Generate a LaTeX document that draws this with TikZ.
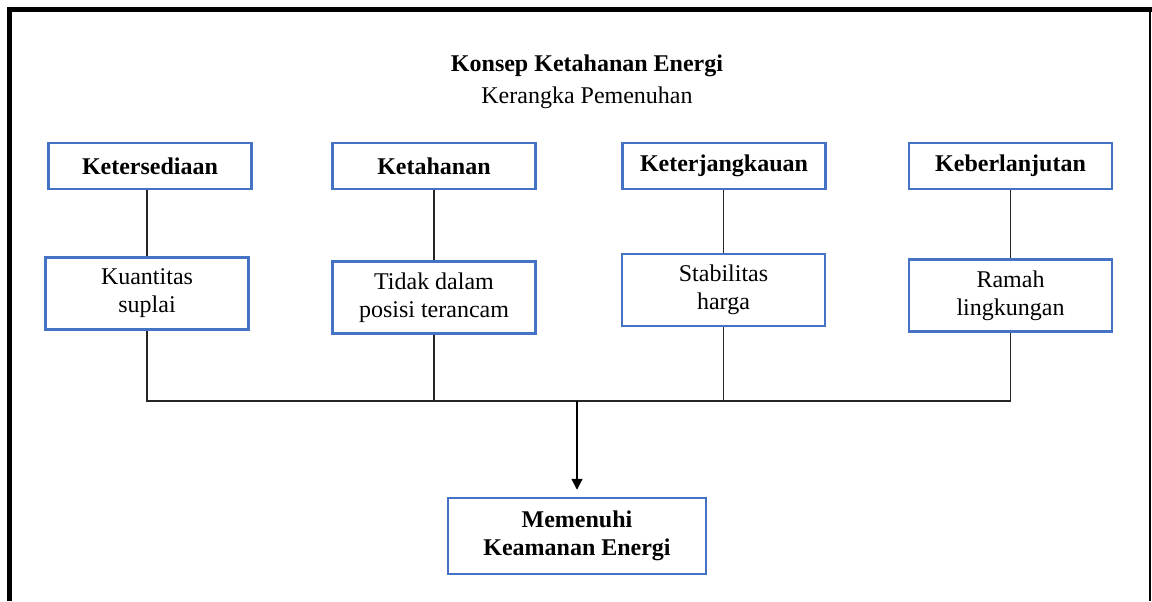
\documentclass[tikz,border=0pt]{standalone}
\usepackage{fontspec}
\setmainfont{Liberation Serif}
\usepackage{tikz}
\usetikzlibrary{arrows.meta,positioning}
\definecolor{wordblue}{HTML}{4472C4}
\tikzset{
  pillar/.style  = {draw=wordblue, line width=1.25pt, minimum width=101.5pt, minimum height=23pt, inner sep=2pt, font=\fontsize{12}{14}\selectfont\bfseries},
  aspect/.style  = {draw=wordblue, line width=1.25pt, minimum width=101.5pt, minimum height=36pt, inner sep=2pt, align=center, font=\fontsize{12}{14}\selectfont},
  goalbox/.style = {draw=wordblue, line width=1.25pt, minimum width=129pt, minimum height=38pt, inner sep=2pt, align=center, font=\fontsize{12}{14}\selectfont\bfseries},
  link/.style    = {black!85, line width=0.7pt},
  wire/.style    = {black, line width=0.8pt, -{Triangle[length=5.5pt,width=5.5pt]}, shorten >=3.5pt},
  heading/.style = {anchor=base, inner sep=0pt, font=\fontsize{12}{14}\selectfont}
}

\begin{document}
\begin{tikzpicture}[x=0.5pt, y=-0.5pt]
    \useasboundingbox (0,0) rectangle (1152,601);
    % Frame
    \draw[line width=2.5pt] (9.5,601) -- (9.5,9.5) -- (1152,9.5);
    \draw[line width=1pt] (1150,9.5) -- (1150,601);
    % Title
    \node[heading] (title) at (587,71) {\bfseries Konsep Ketahanan Energi};
    \node[heading] (subtitle) at (587,103) {Kerangka Pemenuhan};
    % Pillars
    \node[pillar] (p1) at (150,166) {Ketersediaan};
    \node[pillar] (p2) at (434,166) {Ketahanan};
    \node[pillar] (p3) at (724,166) {Keterjangkauan};
    \node[pillar] (p4) at (1010.5,166) {Keberlanjutan};
    % Aspects
    \node[aspect] (a1) at (147,293.5) {Kuantitas\\suplai};
    \node[aspect] (a2) at (434,297.5) {Tidak dalam\\posisi terancam};
    \node[aspect] (a3) at (723.5,290) {Stabilitas\\harga};
    \node[aspect] (a4) at (1010.5,295.5) {Ramah\\lingkungan};
    % Goal
    \node[goalbox] (goal) at (577,536) {Memenuhi\\Keamanan Energi};
    % Links pillar -> aspect
    \foreach \i in {1,...,4}
      \draw[link] (a\i.north) -- (a\i.north |- p\i.south);
    % Collecting bus
    \coordinate (bus) at (577,401);
    \draw[link] (a1.south) -- (a1.south |- bus) -- (a4.south |- bus) -- (a4.south);
    \draw[link] (a2.south) -- (a2.south |- bus);
    \draw[link] (a3.south) -- (a3.south |- bus);
    \draw[wire] (bus) -- (goal.north);
\end{tikzpicture}
\end{document}
